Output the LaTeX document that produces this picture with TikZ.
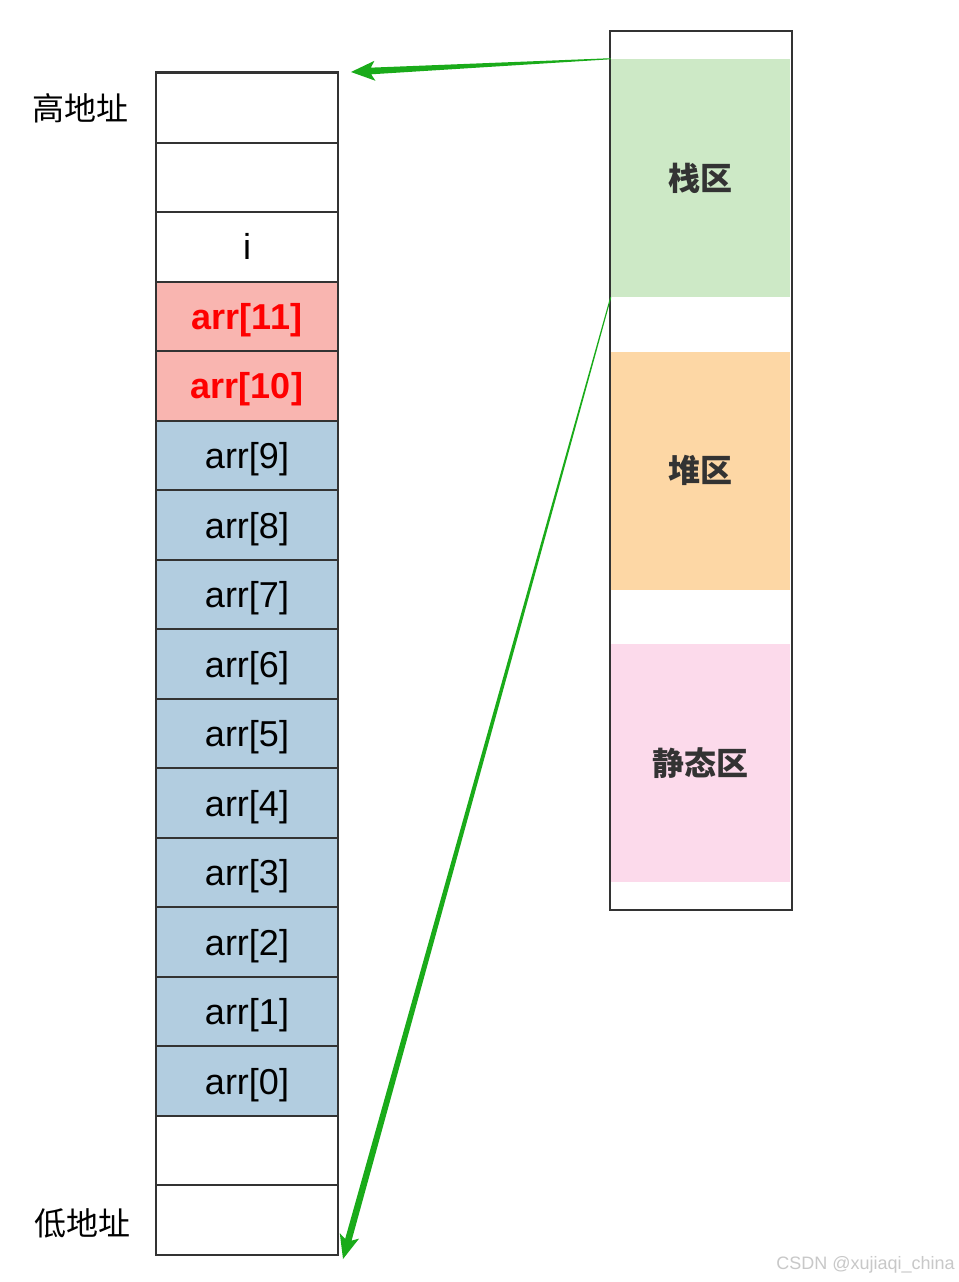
\documentclass[tikz,border=0pt]{standalone}
\usepackage{fontspec}
\setmainfont{Liberation Sans}
\newfontfamily\cjk{Noto Sans CJK SC}
\usetikzlibrary{calc}
\definecolor{edge}{HTML}{333333}
\definecolor{stackfill}{HTML}{CDE9C6}
\definecolor{heapfill}{HTML}{FDD7A5}
\definecolor{staticfill}{HTML}{FCDAEB}
\definecolor{bluefill}{HTML}{B2CDE0}
\definecolor{redfill}{HTML}{F9B5B0}
\definecolor{arrowgreen}{HTML}{1AAB1A}
\definecolor{wm}{HTML}{C8C8C8}
\newcommand\taperarrow[2]{%
  \coordinate (hb) at ($(#2)!15pt!(#1)$);
  \coordinate (hw) at ($(#2)!18pt!(#1)$);
  \fill[arrowgreen] ($(#1)!0.4pt!90:(hb)$) -- ($(hb)!2.5pt!-90:(#1)$) -- ($(hw)!7.5pt!-90:(#1)$) -- (#2) -- ($(hw)!7.5pt!90:(#1)$) -- ($(hb)!2.5pt!90:(#1)$) -- ($(#1)!0.4pt!-90:(hb)$) -- cycle;}
\tikzset{
  cell/.style={draw=edge, line width=1.5pt, minimum width=136.5pt, minimum height=52.15pt, inner sep=0pt, text depth=0pt, font=\fontsize{27}{31}\selectfont},
  emptycell/.style={cell, fill=white},
  redcell/.style={cell, fill=redfill, text=red, font=\fontsize{27}{31}\selectfont\bfseries},
  bluecell/.style={cell, fill=bluefill},
  region/.style={minimum width=134.25pt, minimum height=178.5pt, inner sep=0pt, font=\cjk\bfseries\fontsize{24}{28}\selectfont, text=edge},
  addr/.style={font=\cjk\fontsize{24}{28}\selectfont, text=black},
  memcol/.style={draw=edge, line width=1.5pt, minimum width=136.5pt, minimum height=659.25pt, inner sep=0pt},
}
\begin{document}
\begin{tikzpicture}[x=0.75pt,y=-0.75pt]
\useasboundingbox[fill=white] (0,0) rectangle (958,1282);
% left memory cells
\node[emptycell] (c0)  at (247,107.77) {};
\node[emptycell] (c1)  at (247,177.30) {};
\node[emptycell] (c2)  at (247,246.83) {i};
\node[redcell]   (c3)  at (247,316.36) {arr[11]};
\node[redcell]   (c4)  at (247,385.89) {arr[10]};
\node[bluecell]  (c5)  at (247,455.42) {arr[9]};
\node[bluecell]  (c6)  at (247,524.95) {arr[8]};
\node[bluecell]  (c7)  at (247,594.48) {arr[7]};
\node[bluecell]  (c8)  at (247,664.01) {arr[6]};
\node[bluecell]  (c9)  at (247,733.54) {arr[5]};
\node[bluecell]  (c10) at (247,803.07) {arr[4]};
\node[bluecell]  (c11) at (247,872.60) {arr[3]};
\node[bluecell]  (c12) at (247,942.13) {arr[2]};
\node[bluecell]  (c13) at (247,1011.66) {arr[1]};
\node[bluecell]  (c14) at (247,1081.19) {arr[0]};
\node[emptycell] (c15) at (247,1150.72) {};
\node[emptycell] (c16) at (247,1220.25) {};
\draw[edge, line width=2.25pt] (c0.north west) -- (c0.north east);
% address labels
\node[addr] (hi) at (80,108) {高地址};
\node[addr] (lo) at (82,1223) {低地址};
% right memory column
\node[region, fill=stackfill]  (stack)  at (700.5,178)   {栈区};
\node[region, fill=heapfill]   (heap)   at (700.5,470.5) {堆区};
\node[region, fill=staticfill] (static) at (700.5,763)   {静态区};
\node[memcol] (mem) at (701,470.5) {};
% arrows
\coordinate (t1) at ($(c0.north east)+(12,0)$);
\coordinate (t2) at ($(c16.south east)+(4,3)$);
\taperarrow{stack.north west}{t1}
\taperarrow{stack.south west}{t2}
% watermark
\node[anchor=east, text=wm, font=\fontsize{13.5}{15}\selectfont, inner sep=0pt] (wmk) at (955,1265) {CSDN @xujiaqi\_china};
\end{tikzpicture}
\end{document}
